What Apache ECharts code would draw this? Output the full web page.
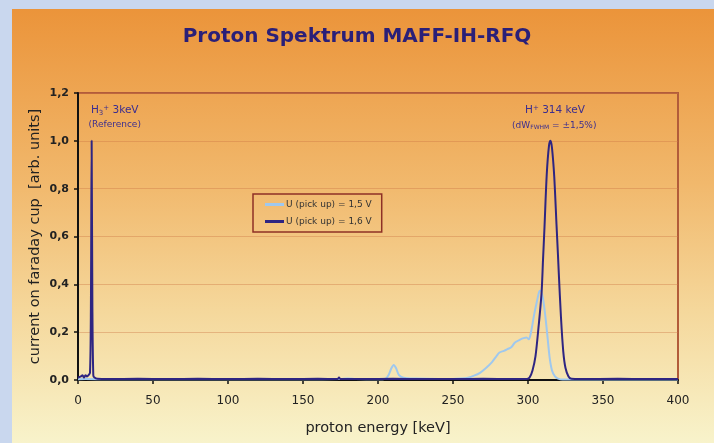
<!DOCTYPE html>
<html><head><meta charset="utf-8">
<script src="https://cdn.jsdelivr.net/npm/echarts@6/dist/echarts.min.js"></script>
<style>html,body{margin:0;padding:0;background:#c9d7ee}#c{width:714px;height:443px}</style>
</head><body><div id="c"></div>
<script>
// ---- data ----
const titleText = 'Proton Spektrum MAFF-IH-RFQ';
const xTickValues = [0, 50, 100, 150, 200, 250, 300, 350, 400];
const yTickValues = [0, 0.2, 0.4, 0.6, 0.8, 1.0, 1.2];
const seriesNames = ['U (pick up) = 1,5 V', 'U (pick up) = 1,6 V'];

const energy15 = [0, 5, 20, 50, 100, 150, 175, 180, 185, 200, 205, 207, 209, 210.5, 212, 214, 217, 225, 240, 250, 255, 260, 264, 268, 272, 276, 279, 281, 284, 286, 289, 291, 293, 295, 297, 299, 300.5, 302, 304, 306, 307.5, 308.5, 310, 311.5, 313, 314.5, 316, 318, 320, 323, 330, 400];
const current15 = [0.003, 0.004, 0.003, 0.003, 0.003, 0.003, 0.004, 0.006, 0.004, 0.003, 0.005, 0.02, 0.05, 0.063, 0.05, 0.02, 0.01, 0.006, 0.004, 0.004, 0.006, 0.01, 0.018, 0.03, 0.05, 0.075, 0.1, 0.115, 0.122, 0.128, 0.138, 0.155, 0.163, 0.17, 0.175, 0.178, 0.17, 0.2, 0.27, 0.33, 0.37, 0.373, 0.34, 0.27, 0.18, 0.09, 0.04, 0.015, 0.006, 0.002, 0.002, 0.002];

const energy16 = [0, 2, 3, 4, 5, 6, 7, 8, 8.6, 9.1, 9.6, 10.2, 11, 13, 20, 40, 60, 80, 100, 120, 140, 160, 173, 174, 175, 190, 210, 230, 250, 270, 290, 299, 301, 303, 305, 307, 309, 310, 311, 312.5, 314, 315, 316, 317.5, 319, 320, 320.5, 322, 323.5, 325, 327, 329, 335, 360, 380, 400];
const current16 = [0.01, 0.015, 0.02, 0.01, 0.02, 0.015, 0.02, 0.03, 0.3, 1.0, 0.3, 0.02, 0.01, 0.005, 0.004, 0.005, 0.004, 0.005, 0.004, 0.005, 0.004, 0.005, 0.004, 0.01, 0.004, 0.004, 0.005, 0.004, 0.004, 0.005, 0.004, 0.004, 0.01, 0.04, 0.1, 0.22, 0.36, 0.5, 0.64, 0.86, 0.98, 1.0, 0.97, 0.85, 0.65, 0.52, 0.45, 0.26, 0.12, 0.05, 0.015, 0.005, 0.004, 0.005, 0.004, 0.004];

const zip = (xs, ys) => xs.map((x, i) => [x, ys[i]]);
const fmtComma = v => v.toFixed(1).replace('.', ',');

const chart = echarts.init(document.getElementById('c'), null, {renderer: 'canvas'});
const FONT = '"DejaVu Sans", Verdana, sans-serif';
const annColor = '#3b2d8f';
const panelFill = () => new echarts.graphic.LinearGradient(0, 0, 0, 1, [
  {offset: 0, color: '#eb943a'},
  {offset: 0.4, color: '#f1b86c'},
  {offset: 0.7, color: '#f5d89c'},
  {offset: 1, color: '#f8f3cb'}
]);

chart.setOption({
  backgroundColor: '#c9d7ee',
  animation: false,
  textStyle: {fontFamily: FONT},
  title: {
    text: titleText, left: 'center', top: 22,
    textStyle: {fontFamily: FONT, fontSize: 20, fontWeight: 'bold', color: '#2a1f78'}
  },
  legend: {
    orient: 'vertical', left: 253, top: 194,
    data: seriesNames,
    icon: 'rect', itemWidth: 19, itemHeight: 3, itemGap: 8,
    padding: [6, 10, 6, 12],
    borderColor: '#8e3026', borderWidth: 1.5,
    textStyle: {fontFamily: FONT, fontSize: 9, color: '#333', padding: [0, 0, 0, -3]}
  },
  grid: {
    left: 78, right: 36, top: 93, bottom: 63,
    show: true, borderColor: '#b25c3a', borderWidth: 2, backgroundColor: 'transparent'
  },
  xAxis: {
    type: 'value', min: 0, max: 400, interval: 50,
    name: 'proton energy [keV]', nameLocation: 'middle', nameGap: 41,
    nameTextStyle: {fontFamily: FONT, fontSize: 14.5, color: '#222'},
    axisLine: {show: true, lineStyle: {color: '#111', width: 2}},
    axisTick: {show: true, length: 4, lineStyle: {color: '#111', width: 1.5}},
    axisLabel: {fontFamily: FONT, fontSize: 12, color: '#222', margin: 15,
      formatter: v => xTickValues.includes(v) ? String(v) : ''},
    splitLine: {show: false}
  },
  yAxis: {
    type: 'value', min: 0, max: 1.2, interval: 0.2,
    name: 'current on faraday cup  [arb. units]', nameLocation: 'middle', nameGap: 35,
    nameMoveOverlap: false,
    nameTextStyle: {fontFamily: FONT, fontSize: 14.5, color: '#222'},
    axisLine: {show: true, lineStyle: {color: '#111', width: 2}},
    axisTick: {show: true, length: 4, lineStyle: {color: '#111', width: 1.5}},
    axisLabel: {fontFamily: FONT, fontSize: 11, fontWeight: 'bold', color: '#222', margin: 9,
      formatter: v => yTickValues.some(t => Math.abs(t - v) < 1e-9) ? fmtComma(v) : ''},
    splitLine: {show: true, lineStyle: {color: 'rgba(205,120,70,0.4)', width: 1}}
  },
  series: [
    {
      name: seriesNames[0], type: 'line', data: zip(energy15, current15),
      showSymbol: false, smooth: 0.3, z: 3,
      lineStyle: {color: '#9fc8ee', width: 2}, itemStyle: {color: '#9fc8ee'}
    },
    {
      name: seriesNames[1], type: 'line', data: zip(energy16, current16),
      showSymbol: false, smooth: 0.3, z: 4,
      lineStyle: {color: '#2e2582', width: 2}, itemStyle: {color: '#2e2582'}
    }
  ],
  graphic: [
    {type: 'rect', z: -100, silent: true, shape: {x: 12, y: 9, width: 702, height: 434}, style: {fill: panelFill()}}
  ]
});

// annotations anchored to data coordinates
function ann(xv, yv, rich, text) {
  const p = chart.convertToPixel({gridIndex: 0}, [xv, yv]);
  return {type: 'text', x: p[0], y: p[1], z: 50, silent: true,
    style: {text: text, rich: rich, align: 'center', verticalAlign: 'middle', fill: annColor, font: '11px ' + FONT}};
}
const rich1 = {
  m: {fontSize: 10.5, fontFamily: FONT, color: annColor},
  sub: {fontSize: 7, fontFamily: FONT, color: annColor, verticalAlign: 'bottom', padding: [5, 0, 0, 0]},
  sup: {fontSize: 7, fontFamily: FONT, color: annColor, verticalAlign: 'top', padding: [0, 0, 5, 0]},
  s: {fontSize: 9, fontFamily: FONT, color: annColor},
  ss: {fontSize: 6, fontFamily: FONT, color: annColor, padding: [4, 0, 0, 0]}
};
chart.setOption({graphic: [
  {type: 'rect', z: -100, silent: true, shape: {x: 12, y: 9, width: 702, height: 434}, style: {fill: panelFill()}},
  ann(24.5, 1.128, rich1, '{m|H}{sub|3}{sup|+}{m| 3keV}'),
  ann(24.5, 1.068, rich1, '{s|(Reference)}'),
  ann(318, 1.128, rich1, '{m|H}{sup|+}{m| 314 keV}'),
  ann(317.5, 1.065, rich1, '{s|(dW}{ss|FWHM}{s| = ±1,5%)}')
]});
</script>
</body></html>
